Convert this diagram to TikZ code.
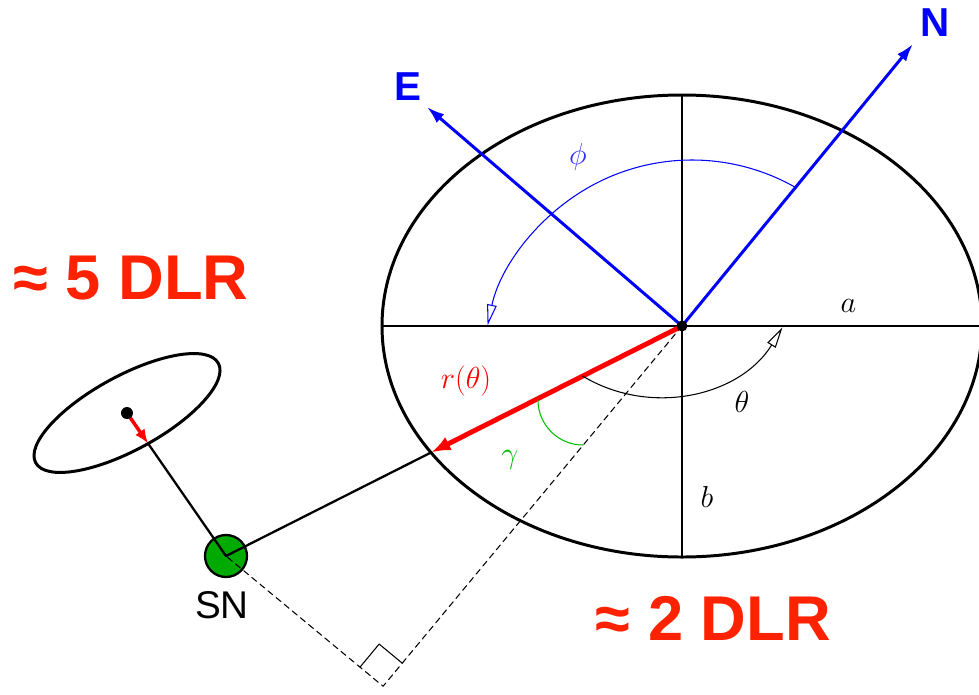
\documentclass[tikz,border=0pt]{standalone}
\usepackage{fontspec}
\setmainfont{Liberation Sans}
\usetikzlibrary{arrows.meta,calc}
\definecolor{dlr}{RGB}{255,34,0}
\definecolor{snfill}{RGB}{0,170,0}
\definecolor{gam}{RGB}{0,190,0}
\definecolor{phic}{RGB}{50,50,255}

\begin{document}
\begin{tikzpicture}[x=.02cm, y=.02cm, line cap=round, line join=round, every node/.style={inner sep=0pt}]
  \tikzset{rim/.style={draw=black, line width=1.7pt}, axis/.style={draw=black, line width=1.3pt},
    dirarrow/.style={draw=blue, line width=1.7pt, -{Latex[length=10pt, width=6.5pt]}},
    rvec/.style={draw=red, line width=2.8pt, -{Latex[length=11pt, width=8.5pt]}},
    anglearc/.style={line width=.6pt, -{Triangle[open, length=12pt, width=5.5pt]}},
    big/.style={font=\fontsize{36}{40}\selectfont\bfseries, text=dlr},
    compass/.style={font=\fontsize{23}{26}\selectfont\bfseries, text=blue},
    sym/.style={font=\fontsize{18}{20}\selectfont}}
  \useasboundingbox (-682,-368) rectangle (297,326);

  % orbit with axes a, b
  \coordinate (O) at (0,0);
  \draw[rim] (O) ellipse[x radius=300, y radius=231];
  \draw[axis] (-300,0) -- (300,0);
  \draw[axis] (0,231) -- (0,-231);

  % N and E
  \coordinate (Ntip) at (231,282);
  \coordinate (Etip) at (-255,219);
  \draw[dirarrow] (O) -- (Ntip);
  \draw[dirarrow] (O) -- (Etip);
  \node[compass] (N) at (253,303) {N};
  \node[compass] (E) at (-274,239.5) {E};
  \draw[anglearc, draw=blue] (10,-43) ++(60:209) arc[start angle=60, end angle=168, radius=209];

  % SN and line of sight
  \node[circle, draw=black, fill=snfill, line width=1.3pt, minimum size=.84cm] (SN) at (-456,-230) {};
  \node[font=\fontsize{22}{24}\selectfont] (snlabel) at (-460,-279.5) {SN};
  \coordinate (R) at (-250.8,-126.4);
  \coordinate (Fdir) at (-302,-364);
  \coordinate (F) at ($(O)!(SN)!(Fdir)$);
  \draw[axis] (R) -- (SN.center);
  \draw[line width=.6pt, dash pattern=on 3.5pt off 2.5pt] (O) -- (F) -- (SN.center);
  \coordinate (Fa) at ($(F)!.6cm!(SN)$);
  \coordinate (Fb) at ($(F)!.6cm!(O)$);
  \draw[line width=.6pt] (Fa) -- ($(Fa)+(Fb)-(F)$) -- (Fb);
  \draw[rvec] (O) -- (R);
  \draw[anglearc] (-24,75) ++(238.9:146) arc[start angle=238.9, end angle=328.5, radius=146];
  \draw[gam, line width=.6pt] (-99,-74) ++(180:45) arc[start angle=180, end angle=270, radius=45];
  \fill (O) circle[radius=5.5];

  % second ellipse
  \coordinate (D) at (-555,-87);
  \draw[rim, rotate around={28.6:(D)}] (D) ellipse[x radius=104, y radius=37];
  \coordinate (Q) at ($(D)!0.213!(SN)$);
  \draw[axis] (Q) -- (SN.center);
  \draw[draw=red, line width=2pt, -{Latex[length=8pt, width=6.5pt]}] (D) -- (Q);
  \fill (D) circle[radius=6];

  % labels
  \foreach \x/\y/\n/\t/\c in {166.5/20.5/la/a/black, 25/-171/lb/b/black, 60/-76/lth/\theta/black,
      -172/-134/lga/\gamma/gam, -216/-54.5/lr/r(\theta)/red, -104/169/lph/\phi/phic} {
    \node[sym, text=\c] (\n) at (\x,\y) {$\t$};
  }
  \node[big] (far) at (-551,47.5) {≈ 5 DLR};
  \node[big] (near) at (31.5,-292.5) {≈ 2 DLR};
\end{tikzpicture}
\end{document}
